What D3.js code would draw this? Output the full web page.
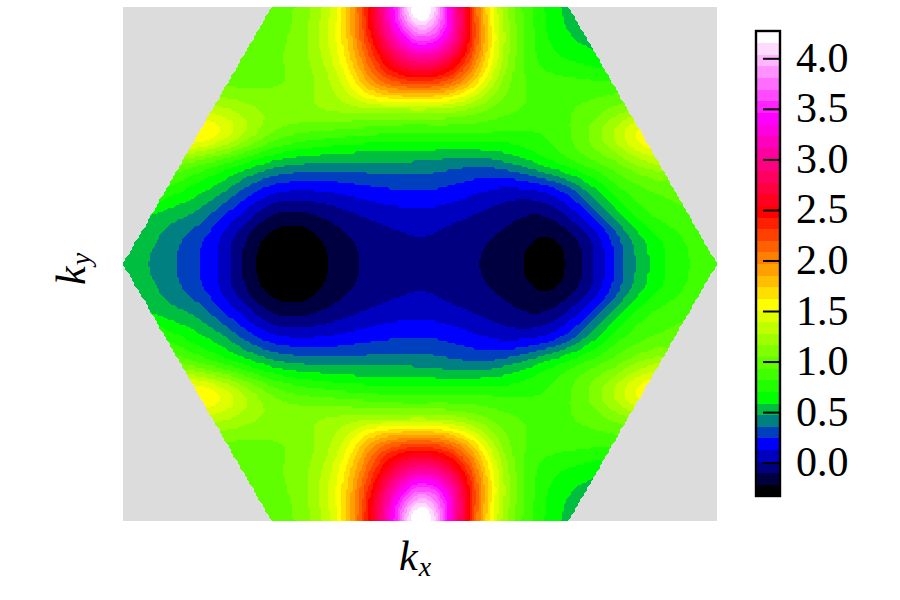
<!DOCTYPE html>
<html><head><meta charset="utf-8">
<script src="https://cdn.jsdelivr.net/npm/d3@7"></script>
<style>html,body{margin:0;background:#fff}svg{display:block}text{font-family:"Liberation Serif",serif;fill:#000}</style>
</head><body><svg id="c" width="900" height="600"></svg>
<script>
// Values on a lattice over the plot box; the plot mirrors about ky = 0.
const row0 =[1.0,1.0,1.0,1.0,1.0,1.0,.98,1.05,1.26,1.65,2.55,3.5,4.75,3.6,2.35,1.40,.95,.705,.54,.5,.5,.5,.5,.5,.5];
const row1 =[.95,.95,.93,.92,.92,.93,1.0,1.07,1.3,1.7,2.45,3.3,3.95,3.55,2.45,1.52,1.0,.72,.585,.52,.5,.5,.5,.5,.5];
const row2 =[.95,.93,.9,.9,.9,.94,1.02,1.10,1.26,1.62,2.2,2.75,3.05,2.85,2.27,1.45,.98,.76,.69,.62,.6,.6,.6,.6,.6];
const row3 =[1.1,1.1,1.08,1.05,1.03,1.0,1.02,1.06,1.18,1.42,1.95,2.2,2.27,2.18,1.8,1.25,.95,.88,.88,.86,.86,.86,.85,.85,.85];
const row4 =[1.5,1.5,1.42,1.35,1.3,1.22,1.14,1.15,1.19,1.22,1.22,1.2,1.2,1.19,1.1,1.0,.95,.91,.92,.98,1.08,1.22,1.28,1.2,1.1];
const row5 =[1.8,1.8,1.75,1.78,1.6,1.3,1.05,.93,.88,.83,.81,.79,.79,.80,.82,.80,.78,.81,.92,1.12,1.4,1.7,1.78,1.7,1.4];
const row6 =[1.3,1.25,1.1,.98,.82,.70,.57,.513,.485,.473,.47,.465,.465,.43,.41,.44,.56,.70,.83,.94,1.04,1.25,1.35,1.35,1.3];
const row7 =[1.0,.95,.80,.66,.555,.35,.215,.165,.17,.20,.24,.26,.277,.25,.195,.13,.115,.177,.33,.58,.83,.92,.97,1.0,1.05];
const row8 =[.7,.6,.53,.47,.28,.10,-.10,-.13,-.07,-.01,.05,.09,.10,.08,.03,-.02,-.08,-.10,.05,.33,.58,.83,.90,.95,1.0];
const row9 =[.62,.53,.40,.28,.11,-.13,-.27,-.31,-.22,-.12,-.06,-.02,.02,-.02,-.07,-.11,-.16,-.24,-.17,0,.33,.57,.74,.85,.97];
const row10=[.58,.46,.38,.26,.10,-.15,-.31,-.38,-.25,-.13,-.08,-.06,-.05,-.05,-.09,-.12,-.2,-.32,-.2,0,.31,.55,.72,.83,.935];
const rows=[row0,row1,row2,row3,row4,row5,row6,row7,row8,row9,row10,row9,row8,row7,row6,row5,row4,row3,row2,row1,row0];

const colorbarTicks=[0,0.5,1,1.5,2,2.5,3,3.5,4];
const colorStops=["#000000","#0000ff","#00ff00","#ffff00","#ff0000","#ff00ff","#ffffff"];
const colorStopBands=[0,4,8,16,24,32,39];
const valueRange=[-0.33,4.27];
const bandCount=40;

const plot={x0:123,x1:717,y0:7,y1:521}, nx=264, ny=228;
const step=(valueRange[1]-valueRange[0])/bandCount;
const thresholds=d3.range(bandCount).map(i=>valueRange[0]+i*step);
const bandColor=d3.scaleLinear().domain(colorStopBands).range(colorStops).interpolate(d3.interpolateRgb);

const toCol=d3.scaleLinear().domain([0,nx]).range([0,rows[0].length-1]);
const toRow=d3.scaleLinear().domain([0,ny]).range([0,rows.length-1]);
function cr(p0,p1,p2,p3,t){return 0.5*(2*p1+(p2-p0)*t+(2*p0-5*p1+4*p2-p3)*t*t+(3*p1-p0-3*p2+p3)*t*t*t);}
function sample(c,r){
  const ci=Math.min(Math.floor(c),rows[0].length-2),ri=Math.min(Math.floor(r),rows.length-2),tc=c-ci,tr=r-ri;
  const R=i=>rows[Math.max(0,Math.min(rows.length-1,i))], C=(a,i)=>a[Math.max(0,Math.min(a.length-1,i))];
  const v=[-1,0,1,2].map(d=>{const a=R(ri+d);return cr(C(a,ci-1),C(a,ci),C(a,ci+1),C(a,ci+2),tc);});
  return cr(v[0],v[1],v[2],v[3],tr);
}
const kx=d3.scaleLinear().domain([-1,1]).range([plot.x0,plot.x1]);
const ky=d3.scaleLinear().domain([-Math.sqrt(3)/2,Math.sqrt(3)/2]).range([plot.y1,plot.y0]);
const hexagon=d3.range(6).map(i=>[kx(Math.cos(i*Math.PI/3)),ky(Math.sin(i*Math.PI/3))]);
const cellX=d3.scaleLinear().domain([0,nx]).range([plot.x0,plot.x1]);
const cellY=d3.scaleLinear().domain([0,ny]).range([plot.y0,plot.y1]);
const smooth=new Float64Array(nx*ny);
for(let j=0;j<ny;j++)for(let i=0;i<nx;i++)smooth[j*nx+i]=sample(toCol(i+.5),toRow(j+.5));
d3.blur2({data:smooth,width:nx,height:ny},4);
const field=Array.from(smooth,(v,k)=>{
  const i=k%nx,j=Math.floor(k/nx);
  return d3.polygonContains(hexagon,[cellX(i+.5),cellY(j+.5)])?v:-999;
});

const svg=d3.select("#c");
svg.append("rect").attr("x",plot.x0).attr("y",plot.y0).attr("width",plot.x1-plot.x0).attr("height",plot.y1-plot.y0).attr("fill","#dcdcdc");
const contours=d3.contours().size([nx,ny]).smooth(false).thresholds(thresholds.map((t,i)=>i?t:-900))(field);
const path=d3.geoPath(d3.geoTransform({point(x,y){this.stream.point(cellX(x),cellY(y));}}));
svg.append("g").attr("shape-rendering","crispEdges").selectAll("path").data(contours).join("path")
  .attr("d",path).attr("fill",(d,i)=>bandColor(i));

// colour bar
const cb={x0:756,x1:780,y0:31,y1:496};
const cbY=d3.scaleLinear().domain(valueRange).range([cb.y1,cb.y0]);
const cbG=svg.append("g");
cbG.append("g").attr("shape-rendering","crispEdges").selectAll("rect").data(thresholds).join("rect")
  .attr("x",cb.x0).attr("width",cb.x1-cb.x0).attr("y",d=>cbY(d+step)).attr("height",d=>cbY(d)-cbY(d+step)+.5)
  .attr("fill",(d,i)=>bandColor(i));
cbG.append("rect").attr("x",cb.x0).attr("y",cb.y0).attr("width",cb.x1-cb.x0).attr("height",cb.y1-cb.y0)
  .attr("fill","none").attr("stroke","#000").attr("stroke-width",2.4);
const axis=d3.axisRight(cbY).tickValues(colorbarTicks).tickSize(-17).tickPadding(16).tickFormat(d3.format(".1f"));
const ag=cbG.append("g").attr("transform",`translate(${cb.x1},0)`).call(axis);
ag.select(".domain").remove();
ag.selectAll("line").attr("stroke","#000").attr("stroke-width",2);
ag.selectAll("text").attr("font-size",42).attr("dy",13).attr("font-family","Liberation Serif").attr("fill","#000");

// axis labels
const lx=svg.append("text").attr("x",399).attr("y",570).attr("font-style","italic").attr("font-size",42);
lx.append("tspan").text("k");
lx.append("tspan").attr("font-size",28).attr("dy",6).attr("dx",1).text("x");
const ly=svg.append("text").attr("transform","translate(85,285) rotate(-90)").attr("font-style","italic").attr("font-size",42);
ly.append("tspan").text("k");
ly.append("tspan").attr("font-size",28).attr("dy",5).attr("dx",1).text("y");
</script></body></html>
